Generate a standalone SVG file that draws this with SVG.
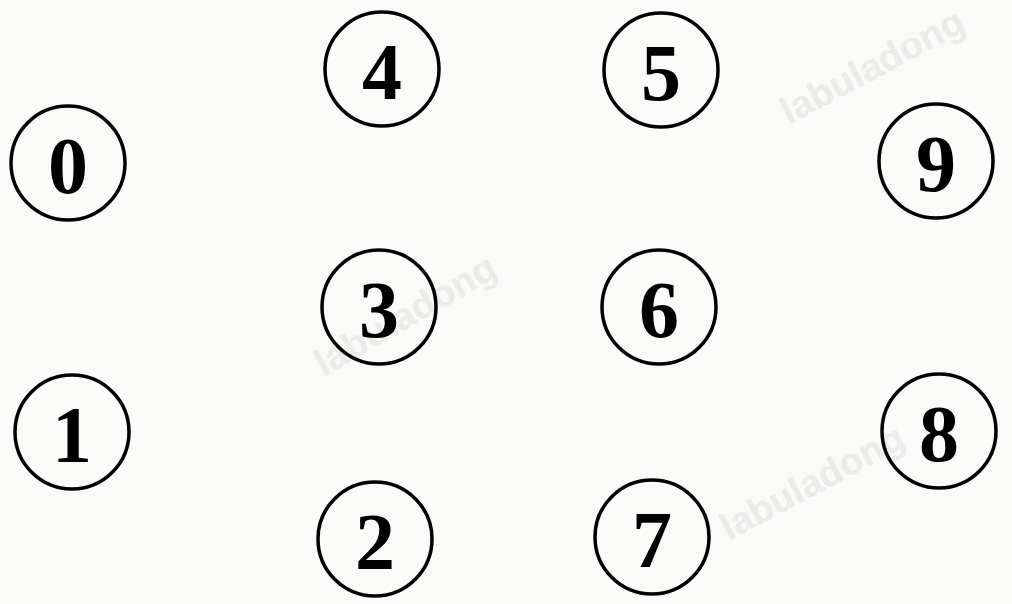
<svg xmlns="http://www.w3.org/2000/svg" width="1012" height="604" viewBox="0 0 1012 604">
<style>
.wm{font-family:"Liberation Sans",Arial,sans-serif;font-weight:bold;font-size:38px;fill:#ebebe9;text-anchor:middle;dominant-baseline:central}
.node circle{fill:none;stroke:#000;stroke-width:3.5}
.node text{font-family:"Liberation Serif","Times New Roman",serif;font-weight:bold;font-size:80px;fill:#000;text-anchor:middle;dominant-baseline:central}
</style>
<rect width="1012" height="604" fill="#fafaf8"/>
<g id="watermarks">
<text class="wm" transform="translate(872,66) rotate(-28)">labuladong</text>
<text class="wm" transform="translate(405,315) rotate(-30)">labuladong</text>
<text class="wm" transform="translate(812,482) rotate(-28)">labuladong</text>
</g>
<g id="connectors"></g>
<g id="node0" class="node"><circle cx="68" cy="163" r="57"/><text x="68" y="166">0</text></g>
<g id="node1" class="node"><circle cx="72" cy="432" r="57"/><text x="72" y="435">1</text></g>
<g id="node2" class="node"><circle cx="375" cy="539" r="57"/><text x="375" y="542">2</text></g>
<g id="node3" class="node"><circle cx="379" cy="307" r="57"/><text x="379" y="310">3</text></g>
<g id="node4" class="node"><circle cx="382" cy="69" r="57"/><text x="382" y="72">4</text></g>
<g id="node5" class="node"><circle cx="661" cy="70" r="57"/><text x="661" y="73">5</text></g>
<g id="node6" class="node"><circle cx="659" cy="307" r="57"/><text x="659" y="310">6</text></g>
<g id="node7" class="node"><circle cx="652" cy="537" r="57"/><text x="652" y="540">7</text></g>
<g id="node8" class="node"><circle cx="939" cy="431" r="57"/><text x="939" y="434">8</text></g>
<g id="node9" class="node"><circle cx="936" cy="161" r="57"/><text x="936" y="164">9</text></g>
</svg>
